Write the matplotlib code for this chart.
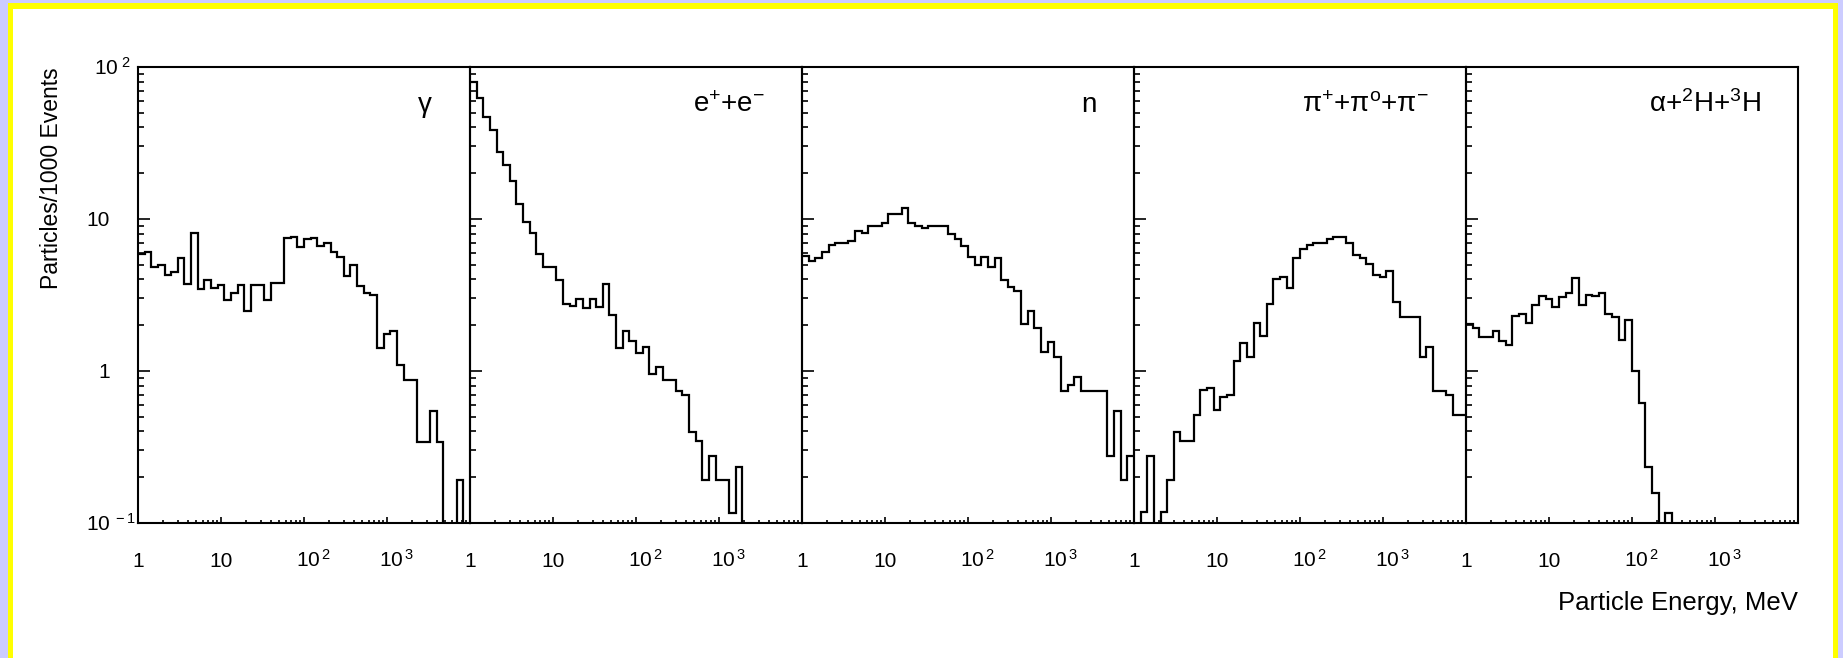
import numpy as np
import matplotlib
matplotlib.use("Agg")
import matplotlib.pyplot as plt
from matplotlib.patches import Rectangle
from matplotlib.transforms import ScaledTranslation
from matplotlib.ticker import FixedLocator, LogLocator, NullFormatter

plt.rcParams["font.family"] = ["Liberation Sans", "DejaVu Sans"]
plt.rcParams["mathtext.fontset"] = "custom"
plt.rcParams["mathtext.rm"] = "Liberation Sans"
plt.rcParams["mathtext.it"] = "Liberation Sans:italic"
plt.rcParams["mathtext.bf"] = "Liberation Sans:bold"

W, H, DPI = 1843, 658, 100

# 50 log-uniform energy bins from 1 MeV to 10^4 MeV
bin_edges = np.logspace(0, 4, 51)

# particles per 1000 events in each energy bin
gamma = [5.9, 6.1, 4.85, 5.0, 4.3, 4.5, 5.5, 3.75, 8.1, 3.47,
         3.97, 3.5, 3.68, 2.93, 3.24, 3.68, 2.49, 3.68, 3.68, 2.93,
         3.81, 3.81, 7.46, 7.65, 6.51, 7.35, 7.46, 6.64, 6.92, 6.1,
         5.65, 4.22, 4.98, 3.6, 3.24, 3.16, 1.41, 1.75, 1.84, 1.09,
         0.873, 0.873, 0.343, 0.343, 0.548, 0.343, 0, 0, 0.192, 0]

electrons = [80, 63, 46.7, 38.5, 27.5, 22.7, 17.9, 12.6, 9.6, 8.13,
             5.86, 4.81, 4.81, 3.97, 2.75, 2.68, 2.96, 2.58, 2.96, 2.65,
             3.72, 2.34, 1.41, 1.84, 1.58, 1.31, 1.43, 0.955, 1.07, 0.873,
             0.873, 0.741, 0.695, 0.395, 0.348, 0.192, 0.276, 0.192, 0.192, 0.117,
             0.235, 0, 0, 0, 0, 0, 0, 0, 0, 0]

neutrons = [5.71, 5.32, 5.51, 6.1, 6.75, 6.98, 6.98, 7.2, 8.38, 8.13,
            9.0, 9.0, 9.36, 10.8, 10.8, 11.8, 9.36, 9.0, 8.69, 9.04,
            9.04, 9.04, 7.97, 7.35, 6.64, 5.65, 4.98, 5.65, 4.81, 5.51,
            3.97, 3.59, 3.38, 2.04, 2.49, 1.91, 1.34, 1.56, 1.24, 0.741,
            0.809, 0.918, 0.741, 0.741, 0.741, 0.741, 0.276, 0.548, 0.192, 0.276]

pions = [0, 0.119, 0.276, 0, 0.119, 0.192, 0.395, 0.348, 0.348, 0.514,
         0.75, 0.769, 0.553, 0.671, 0.695, 1.17, 1.52, 1.24, 2.06, 1.70,
         2.74, 4.01, 4.13, 3.5, 5.51, 6.31, 6.75, 6.98, 6.98, 7.35,
         7.65, 7.65, 6.92, 5.8, 5.51, 5.06, 4.28, 4.18, 4.57, 2.86,
         2.28, 2.28, 2.28, 1.24, 1.43, 0.741, 0.741, 0.695, 0.514, 0.514]

light_ions = [2.04, 1.91, 1.67, 1.68, 1.84, 1.58, 1.48, 2.3, 2.37, 2.06,
              2.72, 3.11, 2.96, 2.65, 3.05, 3.24, 4.07, 2.72, 3.16, 3.11,
              3.24, 2.37, 2.28, 1.6, 2.18, 1.0, 0.62, 0.235, 0.158, 0,
              0.117, 0, 0, 0, 0, 0, 0, 0, 0, 0,
              0, 0, 0, 0, 0, 0, 0, 0, 0, 0]

series = [gamma, electrons, neutrons, pions, light_ions]
panel_labels = [r"$\mathrm{\gamma}$",
                r"e$^{+}$+e$^{-}$",
                "n",
                r"$\mathrm{\pi}^{+}$+$\mathrm{\pi}^{\mathrm{o}}$+$\mathrm{\pi}^{-}$",
                r"$\mathrm{\alpha}$+$^{2}$H+$^{3}$H"]

x_ticks = [1, 10, 100, 1000, 10000]
x_ticklabels = ["1", "10", r"$\mathregular{10^{\,2}}$", r"$\mathregular{10^{\,3}}$", ""]
y_ticks = [0.1, 1, 10, 100]
y_ticklabels = [r"$\mathregular{10^{\ -1}}$", "1", "10", r"$\mathregular{10^{\ 2}}$"]
y_min, y_max = 0.1, 100

# frame geometry in pixels
left_px, panel_px, top_px, bottom_px = 138, 332, 67, 523

fig = plt.figure(figsize=(W / DPI, H / DPI), dpi=DPI, facecolor="#ccccff")
fig.patches.append(Rectangle((8 / W, 0), 1830 / W, 655 / H, transform=fig.transFigure,
                             facecolor="#ffff00", edgecolor="none", zorder=-2))
fig.patches.append(Rectangle((13 / W, 0), 1820 / W, 649 / H, transform=fig.transFigure,
                             facecolor="white", edgecolor="none", zorder=-1))


def shift(text, dx_px, dy_px):
    text.set_transform(text.get_transform() +
                       ScaledTranslation(dx_px / DPI, dy_px / DPI, fig.dpi_scale_trans))


axes = []
for i, (vals, lab) in enumerate(zip(series, panel_labels)):
    ax = fig.add_axes([(left_px + i * panel_px) / W, (H - bottom_px) / H,
                       panel_px / W, (bottom_px - top_px) / H])
    ax.set_facecolor("none")
    ax.set_xscale("log")
    ax.set_yscale("log")
    ax.set_xlim(bin_edges[0], bin_edges[-1])
    ax.set_ylim(y_min, y_max)

    v = np.asarray(vals, dtype=float)
    v_plot = np.where(v > 0, v, y_min * 1e-3)
    ax.stairs(v_plot, bin_edges, baseline=None, color="black", linewidth=1.6)

    for sp in ax.spines.values():
        sp.set_linewidth(1.5)

    ax.tick_params(axis="x", which="major", direction="in", length=4.5, width=1.2,
                   pad=31.5, labelsize=15, top=False)
    ax.tick_params(axis="x", which="minor", direction="in", length=2.2, width=1.2, top=False)
    ax.tick_params(axis="y", which="major", direction="in", length=8.5, width=1.2,
                   pad=20, labelsize=15, right=False, labelleft=(i == 0))
    ax.tick_params(axis="y", which="minor", direction="in", length=4.3, width=1.2, right=False)

    ax.xaxis.set_major_locator(FixedLocator(x_ticks))
    ax.xaxis.set_minor_locator(LogLocator(base=10, subs=np.arange(2, 10)))
    ax.xaxis.set_minor_formatter(NullFormatter())
    ax.set_xticks(x_ticks, x_ticklabels)
    ax.yaxis.set_minor_locator(LogLocator(base=10, subs=np.arange(2, 10)))
    ax.yaxis.set_minor_formatter(NullFormatter())
    ax.set_yticks(y_ticks, y_ticklabels if i == 0 else [""] * len(y_ticks))

    for t in ax.get_xticklabels():
        t.set_verticalalignment("baseline")
        if "10^" in t.get_text():
            shift(t, 9, 0)
    if i == 0:
        for t, s in zip(ax.get_yticklabels(), y_ticklabels):
            t.set_verticalalignment("baseline")
            dx = 0
            if "^{\\ 2}" in s:
                dx = 21
            elif "-1" in s:
                dx = 26
            shift(t, dx, -7.5)

    ax.text(1 - 37 / panel_px, (bottom_px - 112.5) / (bottom_px - top_px), lab,
            transform=ax.transAxes, ha="right", va="baseline", fontsize=20)
    axes.append(ax)

yl = axes[0].set_ylabel("Particles/1000 Events", fontsize=16.5, loc="top")
axes[0].yaxis.set_label_coords(-(left_px - 52) / panel_px, 1.0)
yl.set_verticalalignment("center")

xl = axes[-1].set_xlabel("Particle Energy, MeV", fontsize=18.5, loc="right")
axes[-1].xaxis.set_label_coords(1.0, -(603 - bottom_px) / (bottom_px - top_px))
xl.set_verticalalignment("center")

fig.savefig("out.png", dpi=DPI, facecolor=fig.get_facecolor())
